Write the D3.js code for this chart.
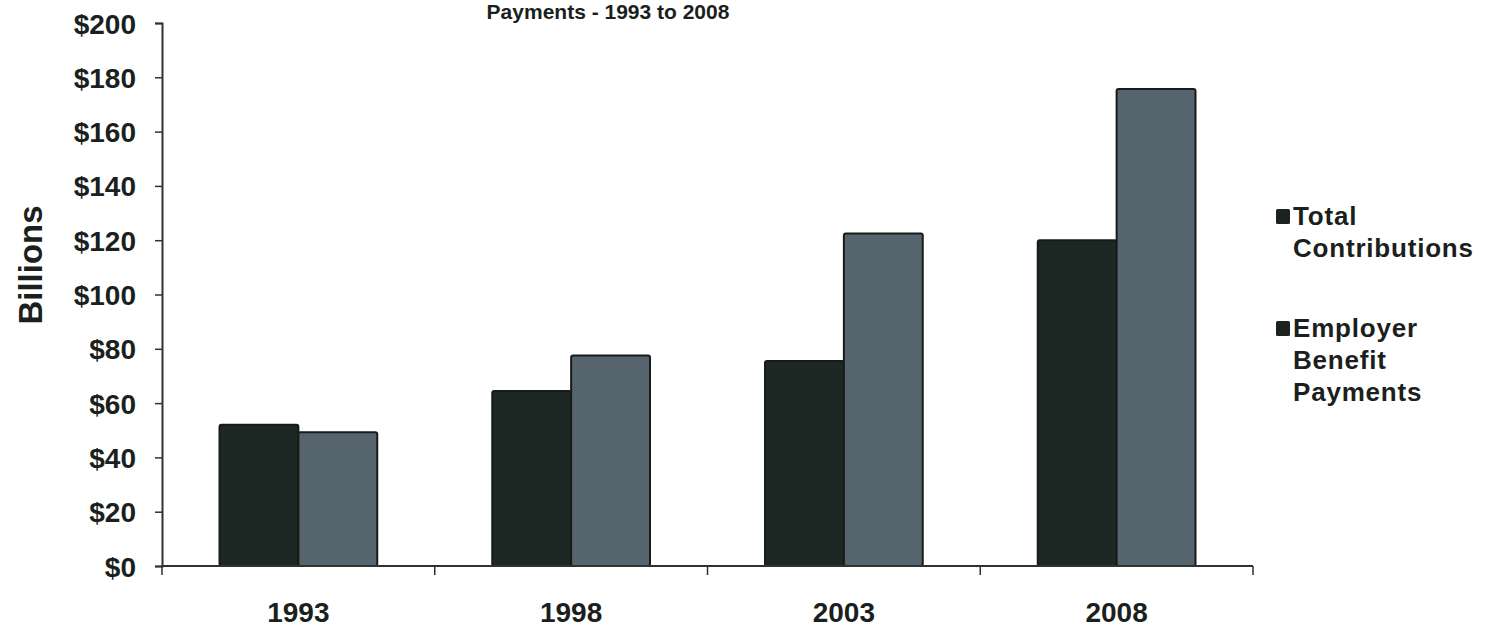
<!DOCTYPE html>
<html>
<head>
<meta charset="utf-8">
<script src="https://cdn.jsdelivr.net/npm/d3@7"></script>
<style>
  html, body { margin: 0; padding: 0; background: #fff; }
  svg { display: block; }
  text { font-family: "Liberation Sans", Arial, Helvetica, sans-serif; font-weight: bold; fill: #1b1f1d; }
</style>
</head>
<body>
<svg id="chart" width="1485" height="636"></svg>
<script>
// Contributions vs. employer benefit payments, billions of dollars
const years = ["1993", "1998", "2003", "2008"];
const seriesNames = ["Total Contributions", "Employer Benefit Payments"];
const totalContributions = [52, 64.5, 75.5, 120];
const employerBenefitPayments = [49.3, 77.5, 122.5, 175.7];
const yTicks = [0, 20, 40, 60, 80, 100, 120, 140, 160, 180, 200];
const legendLines = [["Total", "Contributions"], ["Employer", "Benefit", "Payments"]];
const titleText = "Payments - 1993 to 2008";
const yTitle = "Billions";

const colors = ["#1d2723", "#56646d"];
const seriesValues = [totalContributions, employerBenefitPayments];

const svg = d3.select("#chart");
const plot = { left: 162, right: 1253, top: 23, bottom: 566 };

const x = d3.scaleBand().domain(years).range([plot.left, plot.right]).paddingInner(0).paddingOuter(0);
const bw = x.bandwidth();
const xSub = d3.scaleBand().domain(seriesNames).range([57.5, bw - 57.5]).padding(0);
const y = d3.scaleLinear().domain([0, 200]).range([plot.bottom, plot.top]);

// Title
svg.append("text")
  .attr("x", 608).attr("y", 19)
  .attr("text-anchor", "middle")
  .style("font-size", "21px")
  .text(titleText);

// Bars
const rows = years.map((yr, i) => ({ year: yr, vals: seriesNames.map((s, j) => ({ s, j, v: seriesValues[j][i] })) }));
const groups = svg.append("g").selectAll("g").data(rows).join("g")
  .attr("transform", d => `translate(${x(d.year)},0)`);
groups.selectAll("rect").data(d => d.vals).join("rect")
  .attr("x", d => xSub(d.s))
  .attr("width", xSub.bandwidth())
  .attr("y", d => y(d.v))
  .attr("height", d => y(0) - y(d.v))
  .attr("fill", d => colors[d.j])
  .attr("stroke", "#161c19")
  .attr("stroke-width", 2)
  .attr("rx", 2);

// Y axis
const yAxis = svg.append("g")
  .attr("transform", `translate(${plot.left},0)`)
  .call(d3.axisLeft(y).tickValues(yTicks).tickSize(7).tickPadding(19).tickFormat(d => "$" + d));
yAxis.select(".domain").attr("stroke", "#2e3233").attr("stroke-width", 2);
yAxis.selectAll(".tick line").attr("stroke", "#2e3233").attr("stroke-width", 1.5);
yAxis.selectAll(".tick text")
  .style("font-size", "28px")
  .style("font-family", '"Liberation Sans", Arial, sans-serif')
  .style("font-weight", "bold")
  .attr("fill", "#1b1f1d")
  .attr("dy", "0.36em");

// X axis: baseline, boundary ticks and category labels
const xAxis = svg.append("g").attr("transform", `translate(0,${plot.bottom})`);
xAxis.append("line")
  .attr("x1", plot.left).attr("x2", plot.right)
  .attr("stroke", "#2e3233").attr("stroke-width", 2);
const bounds = years.map(yr => x(yr)).concat([plot.right]);
xAxis.selectAll("line.tk").data(bounds).join("line")
  .attr("class", "tk")
  .attr("x1", d => d).attr("x2", d => d)
  .attr("y1", 0).attr("y2", 9)
  .attr("stroke", "#2e3233").attr("stroke-width", 1.5);
xAxis.selectAll("text").data(years).join("text")
  .attr("x", d => x(d) + bw / 2)
  .attr("y", 56)
  .attr("text-anchor", "middle")
  .style("font-size", "28px")
  .text(d => d);

// Y axis title
svg.append("text")
  .attr("transform", "translate(42,265) rotate(-90)")
  .attr("text-anchor", "middle")
  .style("font-size", "33px")
  .text(yTitle);

// Legend
const legendY = [225, 337];
const legend = svg.append("g");
legendLines.forEach((lines, i) => {
  legend.append("rect")
    .attr("x", 1276).attr("y", legendY[i] - 16)
    .attr("width", 14).attr("height", 15)
    .attr("rx", 1.5)
    .attr("fill", "#1b221f");
  const t = legend.append("text")
    .attr("x", 1293).attr("y", legendY[i])
    .style("font-size", "26px")
    .style("letter-spacing", "0.8px");
  lines.forEach((ln, k) => {
    t.append("tspan").attr("x", 1293).attr("dy", k === 0 ? 0 : 32).text(ln);
  });
});
</script>
</body>
</html>
